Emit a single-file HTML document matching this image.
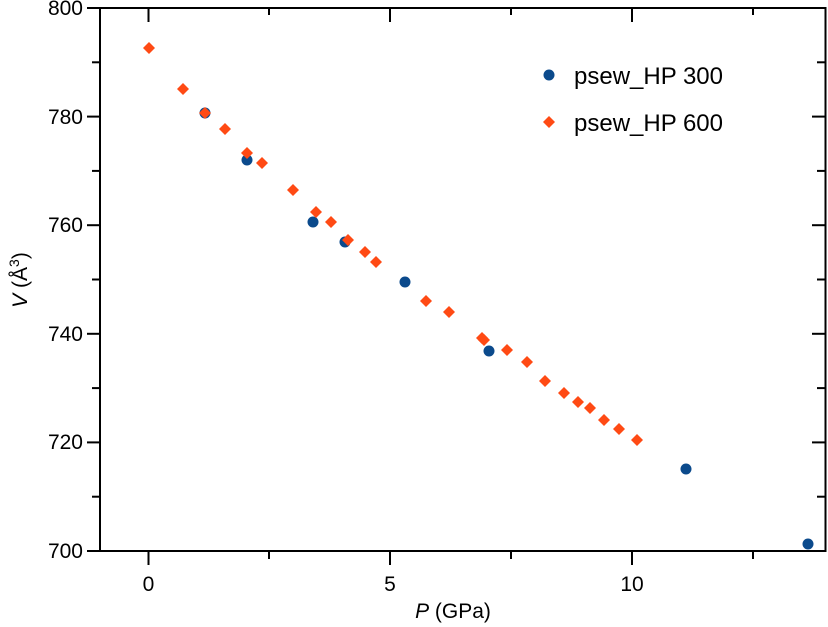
<!DOCTYPE html>
<html><head><style>body{margin:0;background:#fff}svg{display:block}text{font-family:"Liberation Sans",sans-serif;fill:#000}</style></head><body>
<svg width="828" height="627" viewBox="0 0 828 627" xmlns="http://www.w3.org/2000/svg">
<rect x="100" y="8" width="725.5" height="543" fill="none" stroke="#000" stroke-width="2"/>
<g stroke="#000" stroke-width="2">
<line x1="87" y1="8" x2="100" y2="8"/><line x1="87" y1="116.6" x2="100" y2="116.6"/><line x1="87" y1="225.2" x2="100" y2="225.2"/><line x1="87" y1="333.8" x2="100" y2="333.8"/><line x1="87" y1="442.4" x2="100" y2="442.4"/><line x1="87" y1="551" x2="100" y2="551"/>
<line x1="92" y1="62.3" x2="100" y2="62.3"/><line x1="92" y1="170.9" x2="100" y2="170.9"/><line x1="92" y1="279.5" x2="100" y2="279.5"/><line x1="92" y1="388.1" x2="100" y2="388.1"/><line x1="92" y1="496.7" x2="100" y2="496.7"/>
<line x1="812" y1="116.6" x2="825" y2="116.6"/><line x1="812" y1="225.2" x2="825" y2="225.2"/><line x1="812" y1="333.8" x2="825" y2="333.8"/><line x1="812" y1="442.4" x2="825" y2="442.4"/>
<line x1="817" y1="62.3" x2="825" y2="62.3"/><line x1="817" y1="170.9" x2="825" y2="170.9"/><line x1="817" y1="279.5" x2="825" y2="279.5"/><line x1="817" y1="388.1" x2="825" y2="388.1"/><line x1="817" y1="496.7" x2="825" y2="496.7"/>
<line x1="148.5" y1="551" x2="148.5" y2="565"/><line x1="390" y1="551" x2="390" y2="565"/><line x1="632" y1="551" x2="632" y2="565"/>
<line x1="269" y1="551" x2="269" y2="559"/><line x1="511" y1="551" x2="511" y2="559"/><line x1="753" y1="551" x2="753" y2="559"/>
<line x1="148.5" y1="8" x2="148.5" y2="22"/><line x1="390" y1="8" x2="390" y2="22"/><line x1="632" y1="8" x2="632" y2="22"/>
<line x1="269" y1="8" x2="269" y2="15"/><line x1="511" y1="8" x2="511" y2="15"/><line x1="753" y1="8" x2="753" y2="15"/>
</g>
<g font-size="21" text-anchor="end">
<text x="83" y="15">800</text><text x="83" y="124">780</text><text x="83" y="232">760</text><text x="83" y="341">740</text><text x="83" y="449">720</text><text x="83" y="558">700</text>
</g>
<g font-size="21" text-anchor="middle">
<text x="148.5" y="591">0</text><text x="390" y="591">5</text><text x="632" y="591">10</text>
<text x="453" y="618"><tspan font-style="italic">P</tspan> (GPa)</text>
</g>
<text font-size="21" text-anchor="middle" transform="translate(27,280) rotate(-90)"><tspan font-style="italic">V</tspan> (Å<tspan font-size="14" dy="-8">3</tspan><tspan dy="8">)</tspan></text>
<g fill="#0b4a8c">
<circle cx="205" cy="113" r="5.5"/><circle cx="247" cy="160" r="5.5"/><circle cx="313" cy="222" r="5.5"/><circle cx="345" cy="242" r="5.5"/><circle cx="405" cy="282" r="5.5"/><circle cx="489" cy="351" r="5.5"/><circle cx="686" cy="469" r="5.5"/><circle cx="808" cy="544" r="5.5"/>
<circle cx="549" cy="75" r="5.5"/>
</g>
<g fill="#ff4a14">
<path d="M0,-6 L6,0 L0,6 L-6,0Z" transform="translate(149,48)"/>
<path d="M0,-6 L6,0 L0,6 L-6,0Z" transform="translate(183,89)"/>
<path d="M0,-6 L6,0 L0,6 L-6,0Z" transform="translate(205,113)"/>
<path d="M0,-6 L6,0 L0,6 L-6,0Z" transform="translate(225,129)"/>
<path d="M0,-6 L6,0 L0,6 L-6,0Z" transform="translate(247,153)"/>
<path d="M0,-6 L6,0 L0,6 L-6,0Z" transform="translate(262,163)"/>
<path d="M0,-6 L6,0 L0,6 L-6,0Z" transform="translate(293,190)"/>
<path d="M0,-6 L6,0 L0,6 L-6,0Z" transform="translate(316,212)"/>
<path d="M0,-6 L6,0 L0,6 L-6,0Z" transform="translate(331,222)"/>
<path d="M0,-6 L6,0 L0,6 L-6,0Z" transform="translate(348,240)"/>
<path d="M0,-6 L6,0 L0,6 L-6,0Z" transform="translate(365,252)"/>
<path d="M0,-6 L6,0 L0,6 L-6,0Z" transform="translate(376,262)"/>
<path d="M0,-6 L6,0 L0,6 L-6,0Z" transform="translate(426,301)"/>
<path d="M0,-6 L6,0 L0,6 L-6,0Z" transform="translate(449,312)"/>
<path d="M0,-6 L6,0 L0,6 L-6,0Z" transform="translate(482,338)"/>
<path d="M0,-6 L6,0 L0,6 L-6,0Z" transform="translate(484,340)"/>
<path d="M0,-6 L6,0 L0,6 L-6,0Z" transform="translate(507,350)"/>
<path d="M0,-6 L6,0 L0,6 L-6,0Z" transform="translate(527,362)"/>
<path d="M0,-6 L6,0 L0,6 L-6,0Z" transform="translate(545,381)"/>
<path d="M0,-6 L6,0 L0,6 L-6,0Z" transform="translate(564,393)"/>
<path d="M0,-6 L6,0 L0,6 L-6,0Z" transform="translate(578,402)"/>
<path d="M0,-6 L6,0 L0,6 L-6,0Z" transform="translate(590,408)"/>
<path d="M0,-6 L6,0 L0,6 L-6,0Z" transform="translate(604,420)"/>
<path d="M0,-6 L6,0 L0,6 L-6,0Z" transform="translate(619,429)"/>
<path d="M0,-6 L6,0 L0,6 L-6,0Z" transform="translate(637,440)"/>
<path d="M0,-6 L6,0 L0,6 L-6,0Z" transform="translate(549,122)"/>
</g>
<g font-size="24">
<text x="574" y="84">psew_HP 300</text>
<text x="574" y="131">psew_HP 600</text>
</g>
</svg>
</body></html>
